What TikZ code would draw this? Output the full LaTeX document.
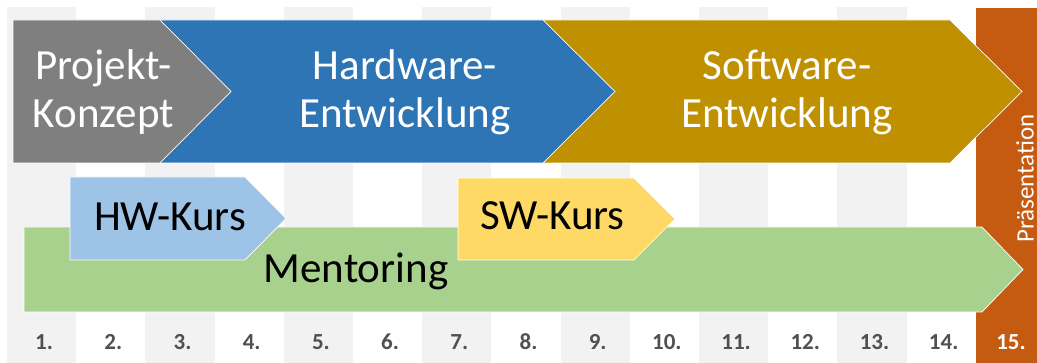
\documentclass[tikz,border=0pt]{standalone}
\usepackage{fontspec}
\setmainfont{Carlito}
\definecolor{stripe}{HTML}{F2F2F2}
\definecolor{konzept}{HTML}{7F7F7F}
\definecolor{hw}{HTML}{2E75B6}
\definecolor{sw}{HTML}{BF9000}
\definecolor{praes}{HTML}{C55A11}
\definecolor{hwkurs}{HTML}{9DC3E6}
\definecolor{swkurs}{HTML}{FFD966}
\definecolor{mentor}{HTML}{A9D18E}
\definecolor{numcol}{HTML}{505050}
\tikzset{
  phase/.style={draw=white, line width=0.7pt, line join=miter},
  bigtext/.style={font=\fontsize{43}{48}\selectfont, align=center, inner sep=0pt, anchor=base},
  numtext/.style={font=\fontsize{23}{24}\selectfont\bfseries, text=numcol, inner sep=0pt},
}
\begin{document}
\begin{tikzpicture}[x=1pt,y=-1pt]
\useasboundingbox (0,0) rectangle (1037,363);
% stripes
\foreach \i in {1,3,...,13}{
  \fill[stripe] ({7+69.2*(\i-1)},7) rectangle ({7+69.2*\i},363);
}
\fill[praes] (976,8) rectangle (1037,363);
% top phases
\draw[phase, fill=sw] (543,20) -- (950,20) -- (1022,91.5) -- (950,163) -- (543,163) -- cycle;
\draw[phase, fill=hw] (160,20) -- (543,20) -- (615,91.5) -- (543,163) -- (160,163) -- cycle;
\draw[phase, fill=konzept] (13,20) -- (160,20) -- (231,91.5) -- (160,163) -- (13,163) -- cycle;
% lower bars
\draw[phase, fill=mentor] (24,227) -- (982,227) -- (1023,269.5) -- (982,312) -- (24,312) -- cycle;
\draw[phase, fill=hwkurs] (70,177) -- (245,177) -- (286,218.5) -- (245,260) -- (70,260) -- cycle;
\draw[phase, fill=swkurs] (458,178) -- (634,178) -- (675,219) -- (634,260) -- (458,260) -- cycle;
% texts
\node[bigtext, text=white] (tkonzept) at (103.5,128) {Projekt-\\Konzept};
\node[bigtext, text=white] (thw) at (405,128) {Hardware-\\Entwicklung};
\node[bigtext, text=white] (tsw) at (787,128) {Software-\\Entwicklung};
\node[bigtext, text=black] (thwk) at (170,231) {HW-Kurs};
\node[bigtext, text=black] (tswk) at (552.5,230) {SW-Kurs};
\node[bigtext, text=black] (tment) at (356,283) {Mentoring};
\node[font=\fontsize{25}{28}\selectfont, text=white, rotate=90, inner sep=0pt] (tpraes) at (1025,178.5) {Präsentation};
% numbers
\foreach \i in {1,...,14}{
  \node[numtext] (n\i) at ({9.5+69.2*(\i-0.5)},342) {\i.};
}
\node[numtext, text=white] (n15) at (1011,342) {15.};
\end{tikzpicture}
\end{document}
